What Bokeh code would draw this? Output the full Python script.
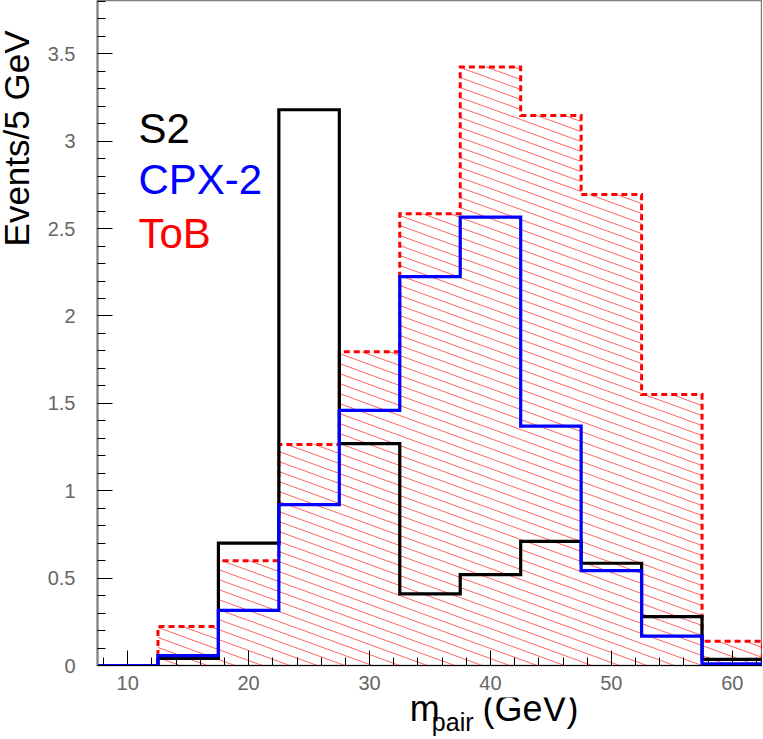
import numpy as np
from bokeh.plotting import figure
from bokeh.models import Range1d, FixedTicker, Label
from bokeh.layouts import row, column
from bokeh.core.properties import value
from bokeh.embed import file_html
from bokeh.resources import INLINE

# ---- data ----
bin_centers = [10, 15, 20, 25, 30, 35, 40, 45, 50, 55, 60]
bin_width = 5
s2_values = [0.0, 0.04, 0.70, 3.18, 1.27, 0.41, 0.52, 0.71, 0.585, 0.28, 0.035]
cpx2_values = [0.0, 0.057, 0.315, 0.92, 1.46, 2.225, 2.565, 1.37, 0.543, 0.168, 0.01]
tob_values = [0.0, 0.223, 0.60, 1.265, 1.795, 2.585, 3.425, 3.147, 2.695, 1.55, 0.139]
series_names = ["S2", "CPX-2", "ToB"]
x_ticks = [10, 20, 30, 40, 50, 60]
x_tick_labels = ["10", "20", "30", "40", "50", "60"]
y_ticks = [0, 0.5, 1, 1.5, 2, 2.5, 3, 3.5]
y_tick_labels = ["0", "0.5", "1", "1.5", "2", "2.5", "3", "3.5"]
x_title_main = "m"
x_title_sub = "pair"
x_title_unit = "(GeV)"
y_title = "Events/5 GeV"

FONT = "Liberation Sans"

# ---- geometry ----
YLAB_W = 40
MAIN_W, MAIN_H = 722, 697
XLAB_H = 40
border_left, border_right, border_top, border_bottom = 57, 0, 0, 32
x_start, x_end = 7.5, 62.5
y_start, y_end = 0.0, 3.805
frame_w = MAIN_W - border_left - border_right
frame_h = MAIN_H - border_top - border_bottom

p = figure(width=MAIN_W, height=MAIN_H, x_range=Range1d(x_start, x_end), y_range=Range1d(y_start, y_end),
           output_backend="svg", toolbar_location=None,
           min_border_left=border_left, min_border_right=border_right,
           min_border_top=border_top, min_border_bottom=border_bottom)
p.grid.visible = False
p.background_fill_color = "white"
p.border_fill_color = "white"
p.outline_line_color = "#808080"
p.outline_line_width = 1.5

centers = np.array(bin_centers, dtype=float)
edges = np.concatenate([centers - bin_width / 2, [centers[-1] + bin_width / 2]])


def step_xy(vals):
    xs = np.repeat(edges, 2)
    ys = np.concatenate([[0.0], np.repeat(np.array(vals, dtype=float), 2), [0.0]])
    return xs, ys


# ---- hatch for ToB (thin lines at ~20 degrees, going down to the right) ----
px_x = frame_w / (x_end - x_start)
px_y = frame_h / (y_end - y_start)
slope = -np.tan(np.deg2rad(20)) * px_x / px_y
dc = 10.0 / px_y
cmax = max(tob_values) + abs(slope) * (x_end - x_start) + dc
x0s, y0s, x1s, y1s = [], [], [], []
for c in np.arange(0, cmax, dc):
    for i, h in enumerate(tob_values):
        if h <= 0:
            continue
        a, b = edges[i], edges[i + 1]
        xa = x_start + (h - c) / slope
        xb = x_start - c / slope
        s = max(a, xa)
        e = min(b, xb)
        if s < e:
            x0s.append(s); y0s.append(c + slope * (s - x_start))
            x1s.append(e); y1s.append(c + slope * (e - x_start))
p.segment(x0s, y0s, x1s, y1s, line_color="#ff3030", line_width=1, line_alpha=0.75)

xs, ys = step_xy(tob_values)
p.line(xs, ys, line_color="#ff0000", line_width=3, line_dash="6 4", line_join="miter")
xs, ys = step_xy(s2_values)
p.line(xs, ys, line_color="black", line_width=3.2, line_join="miter")
xs, ys = step_xy(cpx2_values)
p.line(xs, ys, line_color="#0000ff", line_width=3.2, line_join="miter")

# ---- axes ----
xa_ = p.xaxis[0]
xa_.ticker = FixedTicker(ticks=x_ticks, minor_ticks=list(np.arange(8, 63, 2)))
xa_.major_label_overrides = {t: l for t, l in zip(x_ticks, x_tick_labels)}
xa_.axis_line_color = "black"
xa_.major_label_standoff = 10
ya_ = p.yaxis[0]
ya_.ticker = FixedTicker(ticks=y_ticks, minor_ticks=list(np.round(np.arange(0, 3.81, 0.1), 2)))
ya_.major_label_overrides = {t: l for t, l in zip(y_ticks, y_tick_labels)}
ya_.axis_line_color = "#808080"
ya_.axis_line_width = 2
ya_.major_label_standoff = 22
for ax in (xa_, ya_):
    ax.major_tick_in = 15
    ax.major_tick_out = 0
    ax.minor_tick_in = 8
    ax.minor_tick_out = 0
    ax.major_tick_line_color = "black"
    ax.minor_tick_line_color = "black"
    ax.major_label_text_font = FONT
    ax.major_label_text_font_size = "20px"
    ax.major_label_text_color = "#666666"

# ---- legend texts (screen units relative to frame bottom-left) ----
legend_colors = ["black", "#0000ff", "#ff0000"]
legend_y = [537.5, 486.5, 432.5]
for name, col, ly in zip(series_names, legend_colors, legend_y):
    p.add_layout(Label(x=41, y=ly, x_units="screen", y_units="screen", text=name,
                       text_align="left", text_baseline="alphabetic", text_font=FONT,
                       text_font_size="42px", text_color=col))


def strip(w, h):
    f = figure(width=w, height=h, x_range=Range1d(0, w), y_range=Range1d(0, h),
               output_backend="svg", toolbar_location=None, x_axis_type=None, y_axis_type=None,
               min_border_left=0, min_border_right=0, min_border_top=0, min_border_bottom=0)
    f.outline_line_color = None
    f.background_fill_color = "white"
    f.border_fill_color = "white"
    return f


# ---- x title strip below the plot ----
q = strip(MAIN_W, XLAB_H)
q.text(x=[339], y=[29.5], text=[x_title_main], text_font=value(FONT), text_font_size=value("36px"),
       text_align="left", text_baseline="alphabetic", text_color="black")
q.text(x=[363], y=[15.7], text=[x_title_sub], text_font=value(FONT), text_font_size=value("25px"),
       text_align="left", text_baseline="alphabetic", text_color="black")
q.text(x=[418], y=[29.5], text=[x_title_unit], text_font=value(FONT), text_font_size=value("36px"),
       text_align="left", text_baseline="alphabetic", text_color="black")

# ---- y title strip left of the plot ----
TOTAL_H = MAIN_H + XLAB_H
r = strip(YLAB_W, TOTAL_H)
r.text(x=[16], y=[TOTAL_H - 30], text=[y_title], angle=np.pi / 2, text_font=value(FONT),
       text_font_size=value("35px"), text_align="right", text_baseline="alphabetic", text_color="black")

layout = row(r, column(p, q, spacing=0), spacing=0)
open("out.html", "w").write(file_html(layout, INLINE))
